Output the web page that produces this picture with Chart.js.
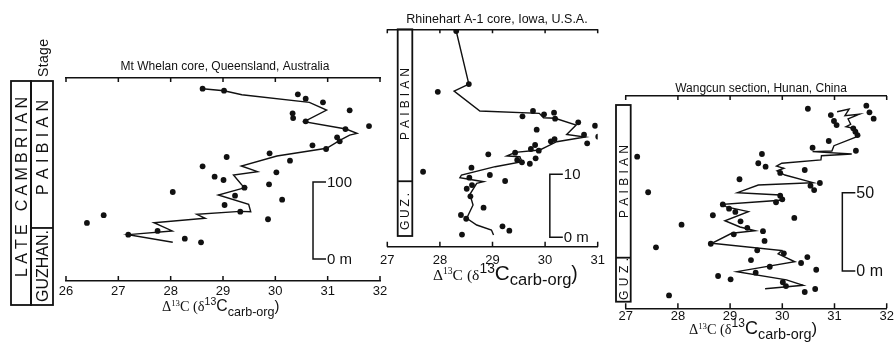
<!DOCTYPE html>
<html>
<head>
<meta charset="utf-8">
<script src="https://cdn.jsdelivr.net/npm/chart.js@4.4.0/dist/chart.umd.min.js"></script>
<style>
  body { margin: 0; background: #fff; }
  #wrap { position: relative; width: 896px; height: 349px; }
  canvas { position: absolute; left: 0; top: 0; }
</style>
</head>
<body>
<div id="wrap">
  <canvas id="c1" width="896" height="349"></canvas>
  <canvas id="c2" width="896" height="349"></canvas>
  <canvas id="c3" width="896" height="349"></canvas>
</div>
<script>
// ---- data: Δ13C (x) against height in section (m, y) ----

// Mt Whelan core, Queensland
const whelanTicks = [26, 27, 28, 29, 30, 31, 32];
const whelanDotX = [28.61, 29.02, 30.43, 30.58, 30.91, 31.42, 30.33, 30.34, 30.58, 31.34, 31.79, 31.18, 31.23, 30.71, 30.97, 29.89, 29.07, 30.28, 28.61, 30.02, 28.84, 29.01, 29.88, 29.41, 28.04, 29.23, 30.13, 29.03, 29.33, 29.86, 27.75, 28.27, 28.58, 26.40, 26.72, 27.19];
const whelanDotY = [221.2, 218.6, 213.9, 208.2, 203.5, 193.1, 189.2, 183.1, 178.8, 168.8, 172.7, 158.1, 152.9, 147.7, 142.9, 137.3, 132.5, 127.7, 120.4, 112.6, 106.9, 102.6, 97.0, 92.6, 87.0, 82.2, 77.0, 70.1, 61.4, 51.6, 36.4, 26.4, 21.7, 46.8, 56.9, 31.6];
const whelanLineX = [28.61, 29.02, 29.36, 30.65, 30.98, 30.55, 31.35, 31.56, 31.42, 31.24, 30.98, 30.03, 29.35, 29.66, 29.20, 29.36, 29.44, 28.91, 29.49, 29.53, 29.33, 28.50, 28.66, 27.68, 28.03, 27.19, 28.04];
const whelanLineY = [221.2, 218.6, 213.4, 203.5, 193.5, 178.3, 168.8, 163.2, 161.0, 154.5, 143.8, 133.8, 120.8, 113.4, 109.1, 96.1, 93.1, 83.1, 71.0, 61.4, 61.9, 58.1, 52.9, 47.1, 36.4, 31.6, 21.7];

// Rhinehart A-1 core, Iowa
const rhineTicks = [27, 28, 29, 30, 31];
const rhineDotX = [28.31, 28.55, 27.96, 29.77, 29.98, 30.17, 29.57, 30.19, 30.63, 30.95, 29.84, 30.74, 31.01, 30.18, 30.11, 30.80, 29.81, 29.73, 29.88, 29.43, 28.92, 29.82, 29.47, 29.56, 29.71, 28.60, 28.95, 28.56, 29.24, 28.61, 28.51, 28.58, 28.83, 28.40, 28.50, 29.19, 29.32, 28.42, 27.68];
const rhineDotY = [32.75, 24.33, 23.1, 20.05, 19.52, 19.78, 19.21, 18.83, 18.25, 17.71, 17.08, 16.29, 15.97, 15.60, 15.24, 14.92, 14.65, 14.02, 13.75, 13.43, 13.17, 12.54, 12.27, 11.90, 11.68, 11.05, 9.89, 9.46, 8.94, 8.30, 7.71, 6.51, 4.70, 3.54, 2.95, 1.75, 1.05, 0.44, 10.41];
const rhineLineX = [28.31, 28.55, 28.27, 28.76, 29.89, 29.97, 30.19, 30.59, 30.41, 30.76, 30.22, 30.03, 29.90, 29.43, 29.27, 29.52, 29.56, 29.05, 28.41, 28.38, 28.83, 28.70, 28.57, 28.63, 28.51, 28.70, 28.98, 29.02];
const rhineLineY = [32.75, 24.33, 23.22, 20.05, 19.68, 18.98, 18.89, 17.83, 16.32, 15.92, 15.17, 14.38, 13.86, 13.49, 12.90, 12.79, 12.0, 11.21, 9.89, 9.46, 8.83, 8.57, 6.83, 5.13, 3.02, 1.95, 1.16, 0.37];

// Wangcun section, Hunan
const wangTicks = [27, 28, 29, 30, 31, 32];
const wangDotX = [30.49, 31.61, 31.67, 31.75, 30.93, 30.99, 31.04, 31.36, 31.40, 31.44, 30.89, 30.58, 31.41, 27.22, 29.61, 29.54, 29.68, 30.43, 29.96, 29.18, 30.72, 30.54, 30.61, 27.43, 29.96, 30.00, 29.88, 28.86, 28.98, 29.10, 28.67, 30.23, 28.07, 29.20, 29.33, 29.63, 29.07, 29.66, 27.58, 28.63, 29.52, 30.03, 29.40, 30.48, 30.36, 29.76, 30.65, 29.49, 28.77, 29.01, 30.01, 30.07, 30.63, 30.43, 27.83];
const wangDotY = [103.6, 105.6, 101.3, 97.3, 99.6, 95.8, 93.2, 91.1, 89.0, 86.8, 83.0, 78.7, 76.8, 73.0, 74.7, 68.8, 66.6, 64.5, 62.6, 58.6, 56.2, 54.5, 51.7, 50.3, 48.1, 45.8, 43.9, 42.5, 39.8, 37.7, 35.6, 33.9, 29.6, 31.7, 27.6, 25.4, 23.4, 19.2, 15.1, 17.4, 13.2, 11.3, 7.0, 8.9, 5.1, 2.7, 0.8, -1.1, -3.2, -5.3, -7.2, -9.6, -11.5, -13.4, -15.6];
const wangLineX = [31.05, 31.28, 31.20, 31.48, 31.26, 31.31, 31.22, 31.37, 31.48, 30.99, 30.95, 30.58, 31.33, 30.75, 30.74, 29.99, 29.89, 30.03, 29.90, 30.05, 30.59, 29.54, 29.14, 29.96, 30.02, 28.87, 28.93, 29.35, 28.90, 29.19, 29.48, 29.03, 28.65, 29.99, 29.92, 30.24, 29.13, 30.08, 30.40, 29.67];
const wangLineY = [101.7, 103.4, 99.2, 100.1, 97.1, 93.7, 92.1, 91.1, 86.4, 80.0, 76.6, 76.2, 74.7, 73.6, 70.9, 68.8, 67.0, 65.6, 63.9, 61.3, 56.4, 54.9, 50.0, 48.5, 45.3, 42.6, 40.9, 37.9, 32.1, 28.1, 25.7, 24.1, 17.7, 13.0, 10.9, 5.9, -0.4, -5.7, -9.1, -11.3];

// stage boundary (Guzhangian / Paibian) height in each section, m
const guzTopWhelan = 40.3;
const guzTopRhine = 8.9;
const guzTopWang = 8.5;

// ---- drawing helpers ----
const INK = '#111';
const SANS = '"Liberation Sans", Arial, sans-serif';
const SERIF = '"Liberation Serif", "Times New Roman", serif';
Chart.defaults.font.family = SANS;
Chart.defaults.color = INK;

function pts(xs, ys) {
  return xs.map((x, i) => ({ x: x, y: ys[i] }));
}

function drawVertical(ctx, lab) {
  ctx.save();
  ctx.font = lab.size + 'px ' + SANS;
  ctx.fillStyle = INK;
  ctx.textAlign = 'left';
  ctx.textBaseline = 'alphabetic';
  const chars = Array.from(lab.text);
  const widths = chars.map(c => ctx.measureText(c).width);
  const natural = widths.reduce((a, b) => a + b, 0);
  const gap = chars.length > 1 ? (lab.y1 - lab.y0 - natural) / (chars.length - 1) : 0;
  ctx.translate(lab.x, lab.y1);
  ctx.rotate(-Math.PI / 2);
  let pos = 0;
  const base = lab.size * 0.716 / 2;
  chars.forEach((c, i) => {
    ctx.fillText(c, pos, base);
    pos += widths[i] + gap;
  });
  ctx.restore();
}

// Δ13C (δ13C carb-org): serif lead-in, sans remainder
const titleSerifParts = [
  { t: 'Δ', s: 13, dy: 0 },
  { t: '13', s: 8, dy: -5 },
  { t: 'C (δ', s: 13, dy: 0 }
];
const titleSansParts = [
  { t: '13', s: 10, dy: -6 },
  { t: 'C', s: 15, dy: 0 },
  { t: 'carb-org', s: 12, dy: 4.5 },
  { t: ')', s: 14, dy: 0 }
];

function drawParts(ctx, parts, family, x, y, k) {
  parts.forEach(p => {
    ctx.font = (p.s * k) + 'px ' + family;
    ctx.fillText(p.t, x, y + p.dy * Math.min(k, 1.2));
    x += ctx.measureText(p.t).width;
  });
  return x;
}

function drawAxisTitle(ctx, at) {
  ctx.save();
  ctx.fillStyle = INK;
  ctx.textAlign = 'left';
  ctx.textBaseline = 'alphabetic';
  const x = drawParts(ctx, titleSerifParts, SERIF, at.x, at.y, at.ks);
  drawParts(ctx, titleSansParts, SANS, x, at.y, at.k);
  ctx.restore();
}

function decor(cfg) {
  return {
    id: 'decor',
    afterDraw(chart) {
      const ctx = chart.ctx;
      const xs = chart.scales.x, ys = chart.scales.y, a = chart.chartArea;
      ctx.save();
      ctx.strokeStyle = INK;
      ctx.fillStyle = INK;

      // inward tick marks on top and bottom axes
      ctx.lineWidth = 1.5;
      ctx.beginPath();
      xs.ticks.forEach(t => {
        const px = xs.getPixelForValue(t.value);
        ctx.moveTo(px, a.top);
        ctx.lineTo(px, a.top + 4);
        ctx.moveTo(px, a.bottom);
        ctx.lineTo(px, a.bottom - 5);
      });
      ctx.stroke();

      // title
      ctx.font = cfg.title.size + 'px ' + SANS;
      ctx.textAlign = 'center';
      ctx.textBaseline = 'alphabetic';
      ctx.fillText(cfg.title.text, cfg.title.x, cfg.title.y);

      // x axis title
      drawAxisTitle(ctx, cfg.axisTitle);

      // vertical scale bar
      const bx = xs.getPixelForValue(cfg.bar.x);
      const y0 = ys.getPixelForValue(0), y1 = ys.getPixelForValue(cfg.bar.top);
      ctx.lineWidth = 1.5;
      ctx.beginPath();
      ctx.moveTo(bx + 13, y1);
      ctx.lineTo(bx, y1);
      ctx.lineTo(bx, y0);
      ctx.lineTo(bx + 13, y0);
      ctx.stroke();
      ctx.font = cfg.bar.size + 'px ' + SANS;
      ctx.textAlign = 'left';
      ctx.textBaseline = 'middle';
      ctx.fillText(cfg.bar.label, bx + 14, y1 + 1);
      ctx.fillText('0 m', bx + 14, y0 + 1);

      // stage columns
      ctx.lineWidth = 1.8;
      cfg.boxes.forEach(b => {
        ctx.strokeRect(b.x0, b.top, b.x1 - b.x0, b.bottom - b.top);
        if (b.split !== undefined) {
          const sy = ys.getPixelForValue(b.split);
          ctx.beginPath();
          ctx.moveTo(b.x0, sy);
          ctx.lineTo(b.x1, sy);
          ctx.stroke();
        }
      });
      cfg.labels.forEach(l => drawVertical(ctx, l));
      ctx.restore();
    }
  };
}

function makePanel(id, p) {
  const W = 896, H = 349, AXIS_H = 20;
  const tickList = p.ticks;
  return new Chart(document.getElementById(id), {
    type: 'scatter',
    data: {
      datasets: [
        {
          data: pts(p.dotX, p.dotY),
          pointRadius: 2.9,
          pointBackgroundColor: INK,
          pointBorderWidth: 0,
          showLine: false
        },
        {
          data: pts(p.lineX, p.lineY),
          showLine: true,
          pointRadius: 0,
          borderColor: INK,
          borderWidth: 1.4,
          tension: 0
        }
      ]
    },
    options: {
      responsive: false,
      devicePixelRatio: 1,
      animation: false,
      events: [],
      layout: {
        padding: {
          left: p.area.left,
          right: W - p.area.right,
          top: p.area.top,
          bottom: H - p.area.bottom - AXIS_H
        }
      },
      plugins: { legend: { display: false }, tooltip: { enabled: false } },
      scales: {
        x: {
          type: 'linear',
          position: 'bottom',
          min: tickList[0],
          max: tickList[tickList.length - 1],
          afterBuildTicks: s => { s.ticks = tickList.map(v => ({ value: v })); },
          afterFit: s => { s.height = AXIS_H; },
          grid: { display: false, drawTicks: false },
          border: { display: true, color: INK, width: 1.6 },
          ticks: { font: { size: 13 }, color: INK, padding: p.labelPad, maxRotation: 0 }
        },
        x2: {
          type: 'linear',
          position: 'top',
          min: tickList[0],
          max: tickList[tickList.length - 1],
          afterFit: s => { s.height = 0; },
          grid: { display: false, drawTicks: false },
          border: { display: true, color: INK, width: 1.6 },
          ticks: { display: false }
        },
        y: {
          type: 'linear',
          display: false,
          min: p.yMin,
          max: p.yMax
        }
      }
    },
    plugins: [decor(p)]
  });
}

makePanel('c1', {
  dotX: whelanDotX, dotY: whelanDotY, lineX: whelanLineX, lineY: whelanLineY, ticks: whelanTicks,
  area: { left: 66, right: 380, top: 78, bottom: 281 }, yMin: -28.6, yMax: 235.1, labelPad: 2.5,
  title: { text: 'Mt Whelan core, Queensland, Australia', x: 225, y: 69.5, size: 12 },
  axisTitle: { x: 162, y: 311, ks: 1.1, k: 1.05 },
  bar: { x: 30.72, top: 100, label: '100', size: 15 },
  boxes: [
    { x0: 11, x1: 31, top: 81, bottom: 305 },
    { x0: 31, x1: 53, top: 81, bottom: 305, split: guzTopWhelan }
  ],
  labels: [
    { text: 'LATE CAMBRIAN', x: 21, y0: 97, y1: 277, size: 16 },
    { text: 'PAIBIAN', x: 42.5, y0: 100, y1: 195, size: 16 },
    { text: 'GUZHAN.', x: 42.5, y0: 230, y1: 302, size: 16 },
    { text: 'Stage', x: 42.5, y0: 39, y1: 77, size: 14 }
  ]
});

makePanel('c2', {
  dotX: rhineDotX, dotY: rhineDotY, lineX: rhineLineX, lineY: rhineLineY, ticks: rhineTicks,
  area: { left: 387.3, right: 597.7, top: 29.3, bottom: 246.7 }, yMin: -1.49, yMax: 33.02, labelPad: 6,
  title: { text: 'Rhinehart A-1 core, Iowa, U.S.A.', x: 497, y: 23, size: 12.5 },
  axisTitle: { x: 433, y: 280, ks: 1.2, k: 1.38 },
  bar: { x: 30.09, top: 10, label: '10', size: 15 },
  boxes: [
    { x0: 397.7, x1: 412.3, top: 29.3, bottom: 236, split: guzTopRhine }
  ],
  labels: [
    { text: 'PAIBIAN', x: 405, y0: 68, y1: 140, size: 12 },
    { text: 'GUZ.', x: 405, y0: 193, y1: 230, size: 12 }
  ]
});

makePanel('c3', {
  dotX: wangDotX, dotY: wangDotY, lineX: wangLineX, lineY: wangLineY, ticks: wangTicks,
  area: { left: 625.7, right: 886.7, top: 96, bottom: 308.3 }, yMin: -23.82, yMax: 111.75, labelPad: 0,
  title: { text: 'Wangcun section, Hunan, China', x: 761, y: 92, size: 12 },
  axisTitle: { x: 689, y: 334, ks: 1.1, k: 1.2 },
  bar: { x: 31.15, top: 50, label: '50', size: 16 },
  boxes: [
    { x0: 616, x1: 630.7, top: 105, bottom: 301.7, split: guzTopWang }
  ],
  labels: [
    { text: 'PAIBIAN', x: 623.3, y0: 145, y1: 218, size: 12 },
    { text: 'GUZ.', x: 623.3, y0: 258, y1: 300, size: 12 }
  ]
});
</script>
</body>
</html>
